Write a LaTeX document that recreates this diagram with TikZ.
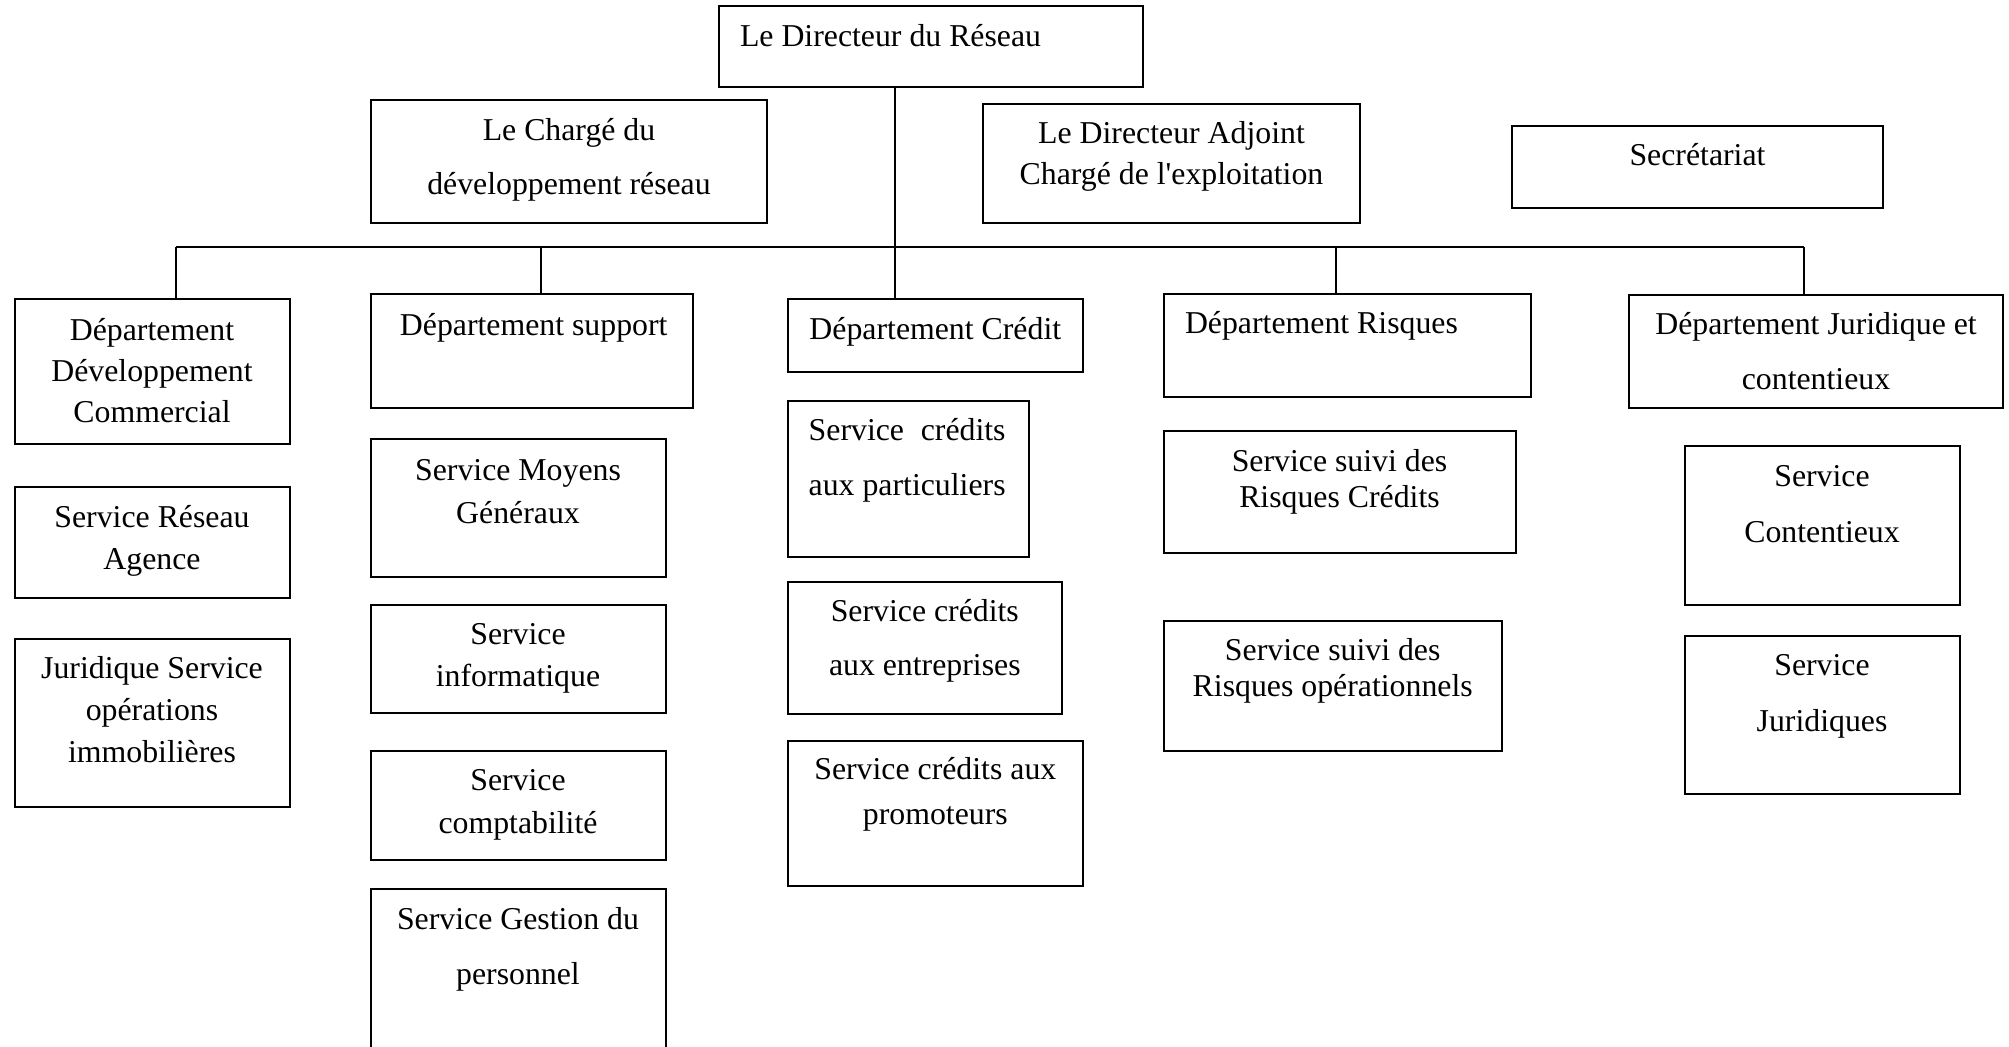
\documentclass[tikz,border=0pt]{standalone}
\usepackage{fontspec}
\setmainfont{Liberation Serif}[Ligatures=TeXOff]
\newlength\partw
\tikzset{
  box/.style={draw, rectangle, line width=2pt, inner sep=0pt, outer sep=0pt},
  txt/.style={inner sep=0pt, outer sep=0pt},
  conn/.style={line width=2pt}
}
\newcommand\obox[5]{\node[box, minimum width={(#4)-(#2)}, minimum height={(#5)-(#3)}] (#1) at ({((#2)+(#4))/2},{((#3)+(#5))/2}) {};}
\newcommand\tl[2]{\fontsize{31.8}{#1}\selectfont\begin{tabular}[t]{@{}c@{}}#2\end{tabular}}
\begin{document}
\begin{tikzpicture}[x=1pt,y=-1pt]
\useasboundingbox[fill=white] (0,0) rectangle (2009,1046);
\clip (0,0) rectangle (2009,1046);
% boxes
\obox{dir}{719}{6}{1143}{87}
\obox{charge}{371}{100}{767}{223}
\obox{adj}{983}{104}{1360}{223}
\obox{sec}{1512}{126}{1883}{208}
\obox{dev}{15}{299}{290}{444}
\obox{sup}{371}{294}{693}{408}
\obox{cred}{788}{299}{1083}{372}
\obox{risq}{1164}{294}{1531}{397}
\obox{jur}{1629}{295}{2003}{408}
\obox{agence}{15}{487}{290}{598}
\obox{immo}{15}{639}{290}{807}
\obox{moyens}{371}{439}{666}{577}
\obox{info}{371}{605}{666}{713}
\obox{compta}{371}{751}{666}{860}
\obox{gestion}{371}{889}{666}{1090}
\obox{part}{788}{401}{1029}{557}
\obox{entr}{788}{582}{1062}{714}
\obox{prom}{788}{741}{1083}{886}
\obox{suivic}{1164}{431}{1516}{553}
\obox{suivio}{1164}{621}{1502}{751}
\obox{cont}{1685}{446}{1960}{605}
\obox{juri}{1685}{636}{1960}{794}
% texts
\node[txt, anchor=base west] (dirT) at (740,46.7) {\tl{41.7}{Le Directeur du Réseau}};
\node[txt, anchor=base] (chargeT) at (569,140) {\tl{54}{Le Chargé du\\développement réseau}};
\node[txt, anchor=base] (adjT) at (1171.5,143.3) {\tl{41.7}{Le Directeur Adjoint\\Chargé de l'exploitation}};
\node[txt, anchor=base] (secT) at (1697.5,165) {\tl{41.7}{Secrétariat}};
\node[txt, anchor=base] (devT) at (152,340) {\tl{41.3}{Département\\Développement\\Commercial}};
\node[txt, anchor=base] (supT) at (533.7,335) {\tl{41.7}{Département support}};
\node[txt, anchor=base] (credT) at (935.3,339) {\tl{41.7}{Département Crédit}};
\node[txt, anchor=base west] (risqT) at (1185,333) {\tl{41.7}{Département Risques}};
\node[txt, anchor=base] (jurT) at (1816,334.3) {\tl{55}{Département Juridique et\\contentieux}};
\node[txt, anchor=base] (agenceT) at (152,527) {\tl{42.7}{Service Réseau\\Agence}};
\node[txt, anchor=base] (immoT) at (152,678.7) {\tl{42}{Juridique Service\\opérations\\immobilières}};
\node[txt, anchor=base] (moyensT) at (518,480) {\tl{43}{Service Moyens\\Généraux}};
\node[txt, anchor=base] (infoT) at (518,644.7) {\tl{42}{Service\\informatique}};
\node[txt, anchor=base] (comptaT) at (518,790.5) {\tl{42.5}{Service\\comptabilité}};
\node[txt, anchor=base] (gestionT) at (518,929) {\tl{55}{Service Gestion du\\personnel}};
\node[txt, anchor=base west] (partT) at (808.7,440) {\fontsize{31.8}{55}\selectfont\begin{tabular}[t]{@{}l@{}}\settowidth{\partw}{aux particuliers}\makebox[\partw][s]{Service crédits}\\aux particuliers\end{tabular}};
\node[txt, anchor=base] (entrT) at (924.8,621.6) {\tl{54}{Service crédits\\aux entreprises}};
\node[txt, anchor=base] (promT) at (935.3,779) {\tl{45}{Service crédits aux\\promoteurs}};
\node[txt, anchor=base] (suivicT) at (1339.5,471) {\tl{36}{Service suivi des\\Risques Crédits}};
\node[txt, anchor=base] (suivioT) at (1332.7,660.7) {\tl{36}{Service suivi des\\Risques opérationnels}};
\node[txt, anchor=base] (contT) at (1822,486) {\tl{56}{Service\\Contentieux}};
\node[txt, anchor=base] (juriT) at (1822,675.5) {\tl{56}{Service\\Juridiques}};
% connectors
\coordinate (trunk) at (895,247);
\coordinate (busL) at (176,247);
\coordinate (busS) at (541,247);
\coordinate (busK) at (1336,247);
\coordinate (busR) at (1804,247);
\draw[conn] (busL) -- (busR);
\draw[conn] (trunk |- dir.south) -- (trunk |- cred.north);
\draw[conn] (busL) -- (busL |- dev.north);
\draw[conn] (busS) -- (busS |- sup.north);
\draw[conn] (busK) -- (busK |- risq.north);
\draw[conn] (busR) -- (busR |- jur.north);
\end{tikzpicture}
\end{document}
